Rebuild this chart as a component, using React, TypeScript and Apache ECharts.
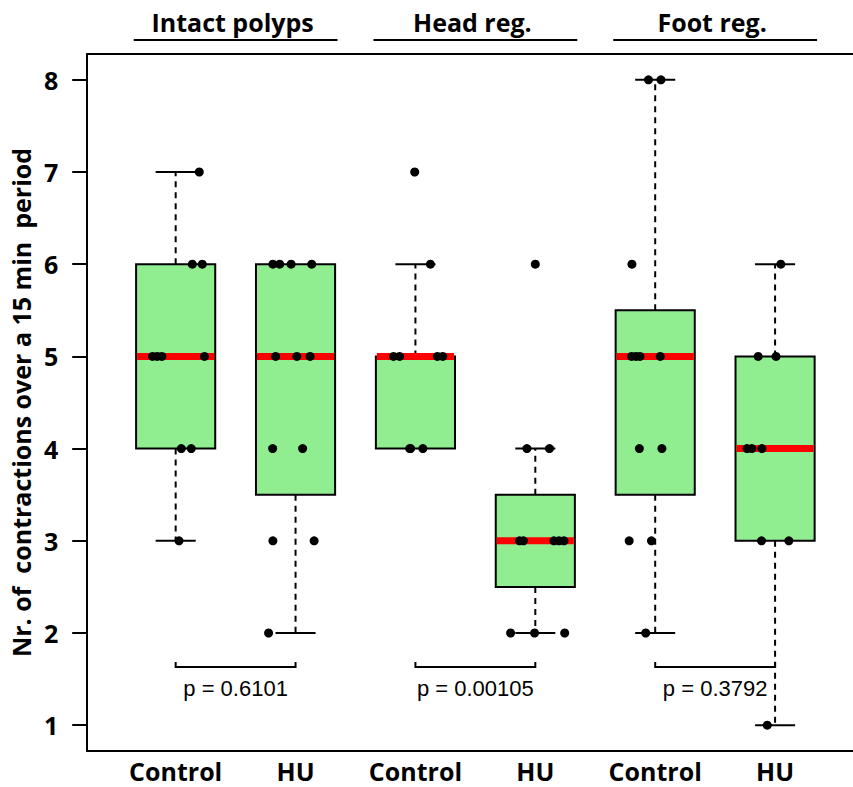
import React, { useEffect, useRef } from 'react';
import * as echarts from 'echarts';

// ---- Data ----
const groupTitles = ['Intact polyps', 'Head reg.', 'Foot reg.'];
const xLabels = ['Control', 'HU', 'Control', 'HU', 'Control', 'HU'];
const xPositions = [1, 2, 3, 4, 5, 6];
const yTicks = [1, 2, 3, 4, 5, 6, 7, 8];
const pValues = ['p = 0.6101', 'p = 0.00105', 'p = 0.3792'];
const yAxisTitle = 'Nr. of  contractions over a 15 min  period';

// box statistics per group: [lower whisker, Q1, median, Q3, upper whisker]
const boxLower = [3, 2, 4, 2, 2, 1];
const boxQ1 = [4, 3.5, 4, 2.5, 3.5, 3];
const boxMedian = [5, 5, 5, 3, 5, 4];
const boxQ3 = [6, 6, 5, 3.5, 5.5, 5];
const boxUpper = [7, 6, 6, 4, 8, 6];

const intactControlValues = [7, 6, 6, 5, 5, 5, 5, 4, 4, 3];
const intactControlJitter = [0.197, 0.139, 0.222, -0.193, -0.154, -0.115, 0.24, 0.047, 0.13, 0.028];
const intactHUValues = [6, 6, 6, 6, 5, 5, 5, 4, 4, 3, 3, 2];
const intactHUJitter = [-0.189, -0.132, -0.037, 0.135, -0.166, 0.011, 0.121, -0.191, 0.059, -0.189, 0.155, -0.225];
const headControlValues = [7, 6, 5, 5, 5, 5, 4, 4, 4];
const headControlJitter = [-0.006, 0.125, -0.183, -0.132, 0.183, 0.228, -0.048, -0.04, 0.062];
const headHUValues = [6, 4, 4, 3, 3, 3, 3, 3, 2, 2, 2];
const headHUJitter = [0, -0.07, 0.118, -0.132, -0.099, 0.155, 0.197, 0.239, -0.206, -0.006, 0.245];
const footControlValues = [8, 8, 6, 5, 5, 5, 5, 4, 4, 3, 3, 2];
const footControlJitter = [-0.056, 0.048, -0.194, -0.197, -0.16, -0.127, 0.042, -0.132, 0.056, -0.217, -0.031, -0.079];
const footHUValues = [6, 5, 5, 4, 4, 4, 3, 3, 1];
const footHUJitter = [0.048, -0.141, 0.008, -0.234, -0.194, -0.11, -0.113, 0.115, -0.065];

const groupValues = [intactControlValues, intactHUValues, headControlValues, headHUValues, footControlValues, footHUValues];
const groupJitter = [intactControlJitter, intactHUJitter, headControlJitter, headHUJitter, footControlJitter, footHUJitter];

// ---- Layout / style constants ----
const X_MIN = 0.262;
const X_MAX = 6.65;
const Y_MIN = 0.72;
const Y_MAX = 8.28;
const BOX_HALF = 0.33;
const CAP_HALF = 0.167;
const BRACKET_Y = 1.63;
const P_TEXT_Y = 1.4;
const BOLD_FONT = '"Open Sans", "DejaVu Sans", sans-serif';
const PLAIN_FONT = '"Liberation Sans", Arial, sans-serif';

export default function App() {
  const ref = useRef<HTMLDivElement>(null);

  useEffect(() => {
    if (!ref.current) return;
    const chart = echarts.init(ref.current, null, { renderer: 'svg' });

    const boxData = xPositions.map((x, i) => [x, boxLower[i], boxQ1[i], boxMedian[i], boxQ3[i], boxUpper[i]]);
    const pointData: number[][] = [];
    groupValues.forEach((vals, g) => {
      vals.forEach((v, k) => pointData.push([xPositions[g] + groupJitter[g][k], v]));
    });

    const option: any = {
      animation: false,
      backgroundColor: '#ffffff',
      grid: { left: 87, right: 0, top: 54, bottom: 36, show: false },
      xAxis: [
        {
          type: 'value',
          min: X_MIN,
          max: X_MAX,
          position: 'bottom',
          axisLine: { show: true, onZero: false, lineStyle: { color: '#000', width: 2 } },
          axisTick: { show: false },
          splitLine: { show: false },
          axisLabel: {
            show: true,
            customValues: xPositions,
            formatter: (v: number) => xLabels[Math.round(v) - 1] ?? '',
            color: '#000',
            fontFamily: BOLD_FONT,
            fontWeight: 'bold',
            fontSize: 25,
            lineHeight: 20,
            margin: 10,
          },
        },
        {
          type: 'value',
          min: X_MIN,
          max: X_MAX,
          position: 'top',
          axisLine: { show: true, onZero: false, lineStyle: { color: '#000', width: 2 } },
          axisTick: { show: false },
          splitLine: { show: false },
          axisLabel: { show: false },
        },
      ],
      yAxis: {
        type: 'value',
        min: Y_MIN,
        max: Y_MAX,
        axisLine: { show: true, onZero: false, lineStyle: { color: '#000', width: 2 } },
        axisTick: { show: true, customValues: yTicks, length: 15, lineStyle: { color: '#000', width: 2 } },
        splitLine: { show: false },
        axisLabel: {
          customValues: yTicks,
          color: '#000',
          fontFamily: BOLD_FONT,
          fontWeight: 'bold',
          fontSize: 25,
          margin: 29,
        },
        name: yAxisTitle,
        nameLocation: 'middle',
        nameGap: 48,
        nameTextStyle: { color: '#000', fontFamily: BOLD_FONT, fontWeight: 'bold', fontSize: 25 },
      },
      series: [
        {
          type: 'custom',
          xAxisIndex: 0,
          yAxisIndex: 0,
          data: boxData,
          encode: { x: 0, y: [1, 2, 3, 4, 5] },
          renderItem: (params: any, api: any) => {
            const x = api.value(0);
            const lo = api.value(1);
            const q1 = api.value(2);
            const med = api.value(3);
            const q3 = api.value(4);
            const hi = api.value(5);
            const c = (xx: number, yy: number) => api.coord([xx, yy]);
            const children: any[] = [];
            const dash = { stroke: '#000', lineWidth: 2, lineDash: [6, 5] };
            const solid = { stroke: '#000', lineWidth: 2 };
            if (hi > q3) {
              const a = c(x, q3), b = c(x, hi);
              children.push({ type: 'line', shape: { x1: a[0], y1: a[1], x2: b[0], y2: b[1] }, style: dash });
              const l = c(x - CAP_HALF, hi), r = c(x + CAP_HALF, hi);
              children.push({ type: 'line', shape: { x1: l[0], y1: l[1], x2: r[0], y2: r[1] }, style: solid });
            }
            if (lo < q1) {
              const a = c(x, q1), b = c(x, lo);
              children.push({ type: 'line', shape: { x1: a[0], y1: a[1], x2: b[0], y2: b[1] }, style: dash });
              const l = c(x - CAP_HALF, lo), r = c(x + CAP_HALF, lo);
              children.push({ type: 'line', shape: { x1: l[0], y1: l[1], x2: r[0], y2: r[1] }, style: solid });
            }
            const tl = c(x - BOX_HALF, q3);
            const br = c(x + BOX_HALF, q1);
            children.push({
              type: 'rect',
              shape: { x: tl[0], y: tl[1], width: br[0] - tl[0], height: br[1] - tl[1] },
              style: { fill: '#90EE90', stroke: '#000', lineWidth: 2 },
            });
            const ml = c(x - BOX_HALF, med), mr = c(x + BOX_HALF, med);
            children.push({
              type: 'line',
              shape: { x1: ml[0] + 1, y1: ml[1], x2: mr[0] - 1, y2: mr[1] },
              style: { stroke: '#FF0000', lineWidth: 7 },
            });
            return { type: 'group', children };
          },
        },
        {
          type: 'scatter',
          xAxisIndex: 0,
          yAxisIndex: 0,
          data: pointData,
          symbol: 'circle',
          symbolSize: 9,
          itemStyle: { color: '#000', opacity: 1 },
        },
      ],
    };

    chart.setOption(option);

    const px = (x: number, y: number) =>
      chart.convertToPixel({ xAxisIndex: 0, yAxisIndex: 0 }, [x, y]) as number[];
    const graphics: any[] = [];
    groupTitles.forEach((t, i) => {
      const center = (xPositions[2 * i] + xPositions[2 * i + 1]) / 2;
      const cx = px(center, 1)[0];
      const x0 = px(center - 0.85, 1)[0];
      const x1 = px(center + 0.85, 1)[0];
      graphics.push({
        type: 'text',
        x: cx - 3,
        y: 22,
        style: {
          text: t,
          fill: '#000',
          fontFamily: BOLD_FONT,
          fontWeight: 'bold',
          fontSize: 25,
          align: 'center',
          verticalAlign: 'middle',
        },
      });
      graphics.push({
        type: 'line',
        shape: { x1: x0, y1: 40, x2: x1, y2: 40 },
        style: { stroke: '#000', lineWidth: 2 },
      });
    });
    pValues.forEach((p, i) => {
      const a = px(xPositions[2 * i], BRACKET_Y);
      const b = px(xPositions[2 * i + 1], BRACKET_Y);
      graphics.push({
        type: 'polyline',
        shape: { points: [[a[0], a[1] - 5], [a[0], a[1]], [b[0], b[1]], [b[0], b[1] - 5]] },
        style: { stroke: '#000', lineWidth: 2, fill: null },
      });
      const t = px((xPositions[2 * i] + xPositions[2 * i + 1]) / 2, P_TEXT_Y);
      graphics.push({
        type: 'text',
        x: t[0],
        y: t[1],
        style: {
          text: p,
          fill: '#000',
          fontFamily: PLAIN_FONT,
          fontSize: 22,
          align: 'center',
          verticalAlign: 'middle',
        },
      });
    });
    chart.setOption({ graphic: graphics });

    return () => chart.dispose();
  }, []);

  return (
    <div
      ref={ref}
      style={{ position: 'fixed', left: 0, top: 0, width: 853, height: 787, background: '#fff' }}
    />
  );
}
